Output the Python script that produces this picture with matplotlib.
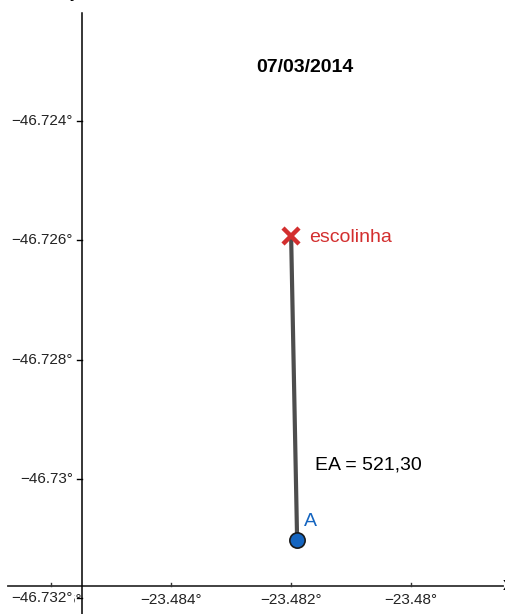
import matplotlib
matplotlib.use("Agg")
import matplotlib.pyplot as plt
import matplotlib.transforms as mtransforms

# data (lon/lat-like coordinates as shown)
xtick_vals = [-23.486, -23.484, -23.482, -23.48]
xtick_labels = ["\u221223.486\u00b0", "\u221223.484\u00b0", "\u221223.482\u00b0", "\u221223.48\u00b0"]
ytick_vals = [-46.732, -46.73, -46.728, -46.726, -46.724]
ytick_labels = ["\u221246.732\u00b0", "\u221246.73\u00b0", "\u221246.728\u00b0", "\u221246.726\u00b0", "\u221246.724\u00b0"]
pt_a = (-23.4819, -46.73102)
pt_escolinha = (-23.482, -46.72592)
title = "07/03/2014"
dist_label = "EA = 521,30"

W, H = 506, 614
plt.rcParams["font.family"] = ["Liberation Sans", "DejaVu Sans"]
fig = plt.figure(figsize=(W / 100, H / 100), dpi=100)
ax = fig.add_axes([0, 0, 1, 1])
ax.set_xlim(-23.48685, -23.47842)
ax.set_ylim(-46.73226, -46.72197)
ax.axis("off")

# axis lines (pixel fractions)
yax_x = 82 / W
xax_y = 1 - 586 / H
ax.plot([yax_x, yax_x], [0, 1 - 13 / H], color="black", lw=1.1, transform=ax.transAxes, clip_on=False, zorder=3)
ax.plot([8 / W, 503 / W], [xax_y, xax_y], color="#333333", lw=1.3, transform=ax.transAxes, clip_on=False)

tx = mtransforms.blended_transform_factory(ax.transData, ax.transAxes)
ty = mtransforms.blended_transform_factory(ax.transAxes, ax.transData)

for v, lab in zip(xtick_vals, xtick_labels):
    ax.plot([v, v], [xax_y, xax_y + 3 / H], color="#333333", lw=1, transform=tx)
    ax.text(v, xax_y - 7 / H, lab, transform=tx, ha="center", va="top", fontsize=11,
            color="#222222", zorder=1)

for v, lab in zip(ytick_vals, ytick_labels):
    ax.plot([yax_x - 5 / W, yax_x], [v, v], color="black", lw=1, transform=ty)
    ax.text(yax_x - 9 / W, v, lab, transform=ty, ha="right", va="center", fontsize=11,
            color="#222222", zorder=2,
            bbox=dict(boxstyle="square,pad=0.05", fc="white", ec="none"))

# cut-off axis names
ax.text(yax_x - 2 / W, 1.0 + 3 / H, "y", transform=ax.transAxes, ha="right", va="baseline", fontsize=14)
ax.text(503 / W, xax_y, "x", transform=ax.transAxes, ha="left", va="center", fontsize=13)

# segment and points
ax.plot([pt_escolinha[0], pt_a[0]], [pt_escolinha[1], pt_a[1]], color="#4d4d4d", lw=3, solid_capstyle="butt", zorder=2)
ax.plot(*pt_escolinha, marker="x", ms=12, mew=3.2, color="#d32f2f", zorder=3)
ax.plot(*pt_a, marker="o", ms=11, mfc="#1565c0", mec="#1a1a1a", mew=1.2, zorder=4)

ax.annotate("escolinha", pt_escolinha, xytext=(13, -1.5), textcoords="offset points",
            ha="left", va="center", fontsize=14, color="#d32f2f")
ax.annotate("A", pt_a, xytext=(5, 13), textcoords="offset points",
            ha="left", va="center", fontsize=14, color="#1565c0")
ax.annotate(dist_label, pt_a, xytext=(13, 54), textcoords="offset points",
            ha="left", va="center", fontsize=14, color="black")

ax.text(305 / W, 1 - 68 / H, title, transform=ax.transAxes, ha="center", va="center",
        fontsize=14, fontweight="bold")

fig.savefig("out.png", dpi=100)
